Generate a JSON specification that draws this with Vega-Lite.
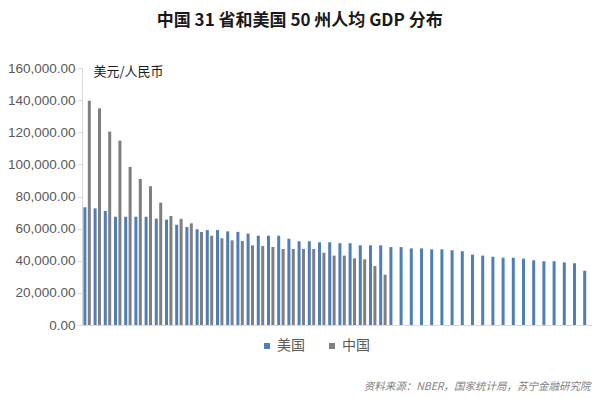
{
  "$schema": "https://vega.github.io/schema/vega-lite/v6.json",
  "width": 510,
  "height": 257,
  "autosize": {"type": "none"},
  "padding": {"left": 82, "top": 68, "right": 8, "bottom": 74},
  "background": "white",
  "title": {
    "text": "中国 31 省和美国 50 州人均 GDP 分布",
    "font": "Noto Sans CJK SC",
    "fontSize": 17,
    "fontWeight": "bold",
    "color": "#1a1a1a",
    "anchor": "middle",
    "frame": "bounds",
    "offset": 31
  },
  "config": {
    "view": {"stroke": null},
    "font": "Noto Sans CJK SC"
  },
  "datasets": {
    "gdp": [
      {"i": 1, "country": "美国", "v": 73300}, {"i": 1, "country": "中国", "v": 139600},
      {"i": 2, "country": "美国", "v": 72600}, {"i": 2, "country": "中国", "v": 134900},
      {"i": 3, "country": "美国", "v": 71000}, {"i": 3, "country": "中国", "v": 120400},
      {"i": 4, "country": "美国", "v": 67400}, {"i": 4, "country": "中国", "v": 114800},
      {"i": 5, "country": "美国", "v": 67400}, {"i": 5, "country": "中国", "v": 98400},
      {"i": 6, "country": "美国", "v": 67400}, {"i": 6, "country": "中国", "v": 90900},
      {"i": 7, "country": "美国", "v": 67400}, {"i": 7, "country": "中国", "v": 86400},
      {"i": 8, "country": "美国", "v": 66200}, {"i": 8, "country": "中国", "v": 76200},
      {"i": 9, "country": "美国", "v": 65600}, {"i": 9, "country": "中国", "v": 67900},
      {"i": 10, "country": "美国", "v": 62400}, {"i": 10, "country": "中国", "v": 66100},
      {"i": 11, "country": "美国", "v": 61000}, {"i": 11, "country": "中国", "v": 63300},
      {"i": 12, "country": "美国", "v": 59600}, {"i": 12, "country": "中国", "v": 57900},
      {"i": 13, "country": "美国", "v": 59100}, {"i": 13, "country": "中国", "v": 55600},
      {"i": 14, "country": "美国", "v": 59100}, {"i": 14, "country": "中国", "v": 54000},
      {"i": 15, "country": "美国", "v": 58300}, {"i": 15, "country": "中国", "v": 52700},
      {"i": 16, "country": "美国", "v": 58000}, {"i": 16, "country": "中国", "v": 52300},
      {"i": 17, "country": "美国", "v": 56900}, {"i": 17, "country": "中国", "v": 49600},
      {"i": 18, "country": "美国", "v": 55600}, {"i": 18, "country": "中国", "v": 49200},
      {"i": 19, "country": "美国", "v": 55600}, {"i": 19, "country": "中国", "v": 48600},
      {"i": 20, "country": "美国", "v": 55600}, {"i": 20, "country": "中国", "v": 47300},
      {"i": 21, "country": "美国", "v": 53700}, {"i": 21, "country": "中国", "v": 47300},
      {"i": 22, "country": "美国", "v": 52100}, {"i": 22, "country": "中国", "v": 47300},
      {"i": 23, "country": "美国", "v": 52100}, {"i": 23, "country": "中国", "v": 47300},
      {"i": 24, "country": "美国", "v": 51500}, {"i": 24, "country": "中国", "v": 45000},
      {"i": 25, "country": "美国", "v": 51500}, {"i": 25, "country": "中国", "v": 43200},
      {"i": 26, "country": "美国", "v": 50900}, {"i": 26, "country": "中国", "v": 43200},
      {"i": 27, "country": "美国", "v": 50900}, {"i": 27, "country": "中国", "v": 41500},
      {"i": 28, "country": "美国", "v": 49600}, {"i": 28, "country": "中国", "v": 40900},
      {"i": 29, "country": "美国", "v": 49600}, {"i": 29, "country": "中国", "v": 36700},
      {"i": 30, "country": "美国", "v": 49600}, {"i": 30, "country": "中国", "v": 31300},
      {"i": 31, "country": "美国", "v": 48500},
      {"i": 32, "country": "美国", "v": 48500},
      {"i": 33, "country": "美国", "v": 47700},
      {"i": 34, "country": "美国", "v": 47700},
      {"i": 35, "country": "美国", "v": 47100},
      {"i": 36, "country": "美国", "v": 47100},
      {"i": 37, "country": "美国", "v": 46500},
      {"i": 38, "country": "美国", "v": 45900},
      {"i": 39, "country": "美国", "v": 43800},
      {"i": 40, "country": "美国", "v": 43200},
      {"i": 41, "country": "美国", "v": 42500},
      {"i": 42, "country": "美国", "v": 41900},
      {"i": 43, "country": "美国", "v": 41900},
      {"i": 44, "country": "美国", "v": 41300},
      {"i": 45, "country": "美国", "v": 40300},
      {"i": 46, "country": "美国", "v": 39700},
      {"i": 47, "country": "美国", "v": 39700},
      {"i": 48, "country": "美国", "v": 39000},
      {"i": 49, "country": "美国", "v": 38400},
      {"i": 50, "country": "美国", "v": 33800}
    ]
  },
  "data": {"name": "gdp"},
  "mark": {"type": "bar"},
  "encoding": {
    "x": {
      "field": "i",
      "type": "ordinal",
      "sort": "ascending",
      "scale": {"paddingInner": 0.1, "paddingOuter": 0.05},
      "axis": {
        "labels": false,
        "ticks": false,
        "domainColor": "#d9d9d9",
        "domainWidth": 1,
        "title": "资料来源：NBER，国家统计局，苏宁金融研究院",
        "titleFont": "Noto Sans CJK SC",
        "titleFontSize": 10.5,
        "titleFontWeight": "normal",
        "titleFontStyle": "italic",
        "titleColor": "#7f7f7f",
        "titleAnchor": "end",
        "titleAlign": "right",
        "titleBaseline": "middle",
        "titleX": 508,
        "titleY": 61
      }
    },
    "xOffset": {
      "field": "country",
      "type": "nominal",
      "sort": ["美国", "中国"],
      "scale": {"domain": ["美国", "中国"], "paddingInner": 0.32, "paddingOuter": 0.2}
    },
    "y": {
      "field": "v",
      "type": "quantitative",
      "scale": {"domain": [0, 160000], "nice": false},
      "axis": {
        "values": [0, 20000, 40000, 60000, 80000, 100000, 120000, 140000, 160000],
        "format": ",.2f",
        "grid": false,
        "labelFont": "Liberation Sans",
        "labelFontSize": 13.5,
        "labelColor": "#595959",
        "labelPadding": 2,
        "tickSize": 5,
        "tickColor": "#d9d9d9",
        "domainColor": "#d9d9d9",
        "title": "美元/人民币",
        "titleAngle": 0,
        "titleFont": "Noto Sans CJK SC",
        "titleFontSize": 13,
        "titleFontWeight": "normal",
        "titleColor": "#1a1a1a",
        "titleAlign": "left",
        "titleBaseline": "middle",
        "titleX": 11,
        "titleY": 3
      }
    },
    "color": {
      "field": "country",
      "type": "nominal",
      "scale": {"domain": ["美国", "中国"], "range": ["#4F7EBB", "#7F7F7F"]},
      "legend": {
        "title": null,
        "orient": "none",
        "direction": "horizontal",
        "legendX": 178,
        "legendY": 271,
        "symbolType": "square",
        "symbolSize": 36,
        "symbolStrokeWidth": 0,
        "labelFont": "Noto Sans CJK SC",
        "labelFontSize": 14,
        "labelColor": "#595959",
        "labelOffset": 3,
        "columnPadding": 20
      }
    }
  }
}
